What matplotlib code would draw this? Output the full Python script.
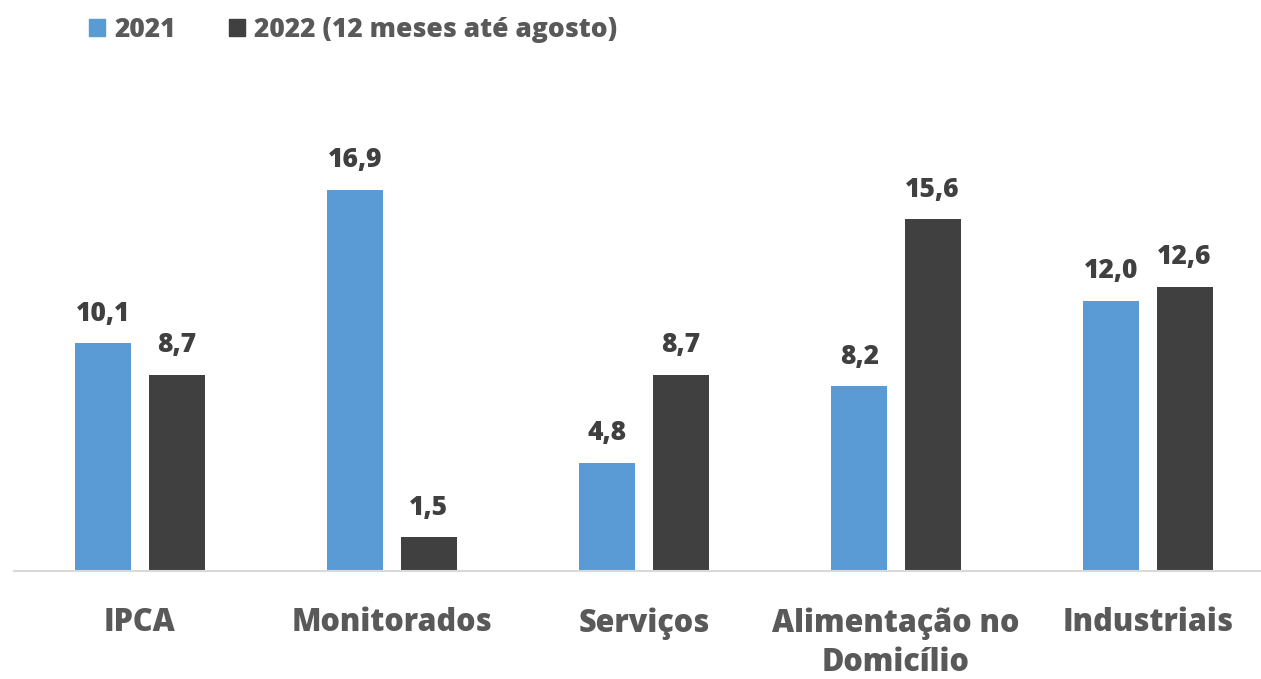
import numpy as np
import matplotlib.pyplot as plt
from matplotlib.patches import Patch

plt.rcParams['font.family'] = ['Open Sans', 'DejaVu Sans']
plt.rcParams['font.weight'] = 'bold'

categories = ['IPCA', 'Monitorados', 'Serviços', 'Alimentação no\nDomicílio', 'Industriais']
v2021 = [10.1, 16.9, 4.8, 8.2, 12.0]
v2022 = [8.7, 1.5, 8.7, 15.6, 12.6]
series_names = ['2021', '2022 (12 meses até agosto)']

c_blue = '#5B9BD5'
c_dark = '#404040'

fig = plt.figure(figsize=(12.61, 6.79), dpi=100)
ax = fig.add_axes([14 / 1261, 1 - 571 / 679, 1247 / 1261, 471 / 679])

x = np.arange(len(categories))
w = 0.222
off = 0.145
b1 = ax.bar(x - off, v2021, w, color=c_blue)
b2 = ax.bar(x + off, v2022, w, color=c_dark)

def fmt(v):
    return f'{v:.1f}'.replace('.', ',')

for bars, vals in ((b1, v2021), (b2, v2022)):
    for b, v in zip(bars, vals):
        ax.annotate(fmt(v), (b.get_x() + b.get_width() / 2, v), xytext=(0, 12),
                    textcoords='offset points', ha='center', va='bottom',
                    fontsize=19, fontweight=800, color='#404040')

ax.set_xlim(-0.5, -0.5 + 1247 / 252)
ax.set_ylim(0, 471 / 22.54)
ax.set_yticks([])
ax.set_xticks(x)
ax.set_xticklabels(categories, fontsize=22, fontweight=800, color='#595959',
                   linespacing=1.32, va='top')
ax.tick_params(axis='x', length=0, pad=26)
for s in ['top', 'right', 'left']:
    ax.spines[s].set_visible(False)
ax.spines['bottom'].set_color('#D9D9D9')
ax.spines['bottom'].set_linewidth(1.5)

handles = [Patch(color=c_blue), Patch(color=c_dark)]
leg = fig.legend(handles, series_names, loc='upper left', bbox_to_anchor=(65 / 1261, 1 + 7 / 679),
                 ncol=2, frameon=False, handlelength=0.62, handleheight=0.62,
                 handletextpad=0.35, columnspacing=2.0,
                 prop={'size': 19, 'weight': 800})
for t in leg.get_texts():
    t.set_color('#595959')

fig.savefig('out.png', dpi=100)
